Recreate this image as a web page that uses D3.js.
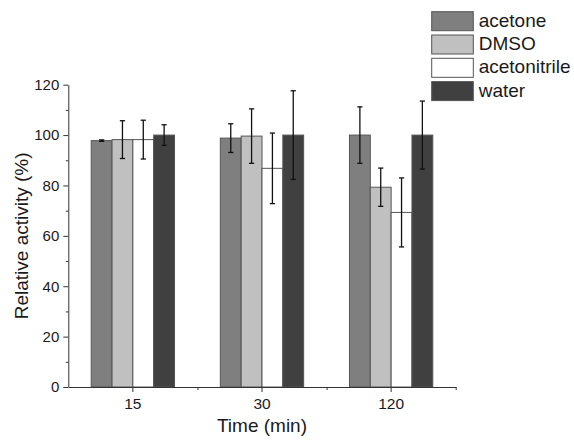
<!DOCTYPE html>
<html>
<head>
<meta charset="utf-8">
<script src="https://cdn.jsdelivr.net/npm/d3@7"></script>
<style>
	body { margin: 0; background: #fff; }
	svg { display: block; font-family: "Liberation Sans", Arial, sans-serif; }
</style>
</head>
<body>
<svg id="chart" width="574" height="442"></svg>
<script>
// data
var categories = ['15', '30', '120'];
var solvents = ['acetone', 'DMSO', 'acetonitrile', 'water'];
var colors = ['#7f7f7f', '#c0c0c0', '#ffffff', '#404040'];

var acetone = [97.8, 98.8, 100];
var acetoneErr = [0.3, 5.7, 11.2];
var dmso = [98.2, 99.6, 79.3];
var dmsoErr = [7.5, 10.8, 7.6];
var acetonitrile = [98.2, 86.8, 69.3];
var acetonitrileErr = [7.7, 14.0, 13.7];
var water = [100, 100, 100];
var waterErr = [4.1, 17.6, 13.5];

var yTicks = [0, 20, 40, 60, 80, 100, 120];
var yMinorTicks = [10, 30, 50, 70, 90, 110];

var values = [acetone, dmso, acetonitrile, water];
var errors = [acetoneErr, dmsoErr, acetonitrileErr, waterErr];

// plot box
var plot = { left: 68.3, right: 455.7, top: 84.7, bottom: 387 };
var textColor = '#1a1a1a';

var svg = d3.select('#chart');

var x0 = d3.scaleBand().domain(categories).range([plot.left, plot.right]).padding(0);
var x1 = d3.scaleBand().domain(solvents).range([0, x0.bandwidth()]).paddingInner(0).paddingOuter(1.1);
var xEdge = d3.scaleLinear().domain([0, categories.length]).range([plot.left, plot.right]);
var y = d3.scaleLinear().domain([0, 120]).range([plot.bottom, plot.top]);

// flatten to one record per bar
var bars = [];
categories.forEach(function(c, i) {
	solvents.forEach(function(s, j) {
		bars.push({ cat: c, solvent: s, idx: j, value: values[j][i], err: errors[j][i] });
	});
});

// bars
svg.append('g').selectAll('rect')
	.data(bars)
	.enter()
	.append('rect')
	.attr('x', function(d) { return x0(d.cat) + x1(d.solvent); })
	.attr('y', function(d) { return y(d.value); })
	.attr('width', x1.bandwidth())
	.attr('height', function(d) { return y(0) - y(d.value); })
	.attr('fill', function(d) { return colors[d.idx]; })
	.attr('stroke', '#555')
	.attr('stroke-width', 1);

// error bars
var eb = svg.append('g').attr('stroke', '#111').attr('stroke-width', 1.3);
bars.forEach(function(d) {
	var cx = x0(d.cat) + x1(d.solvent) + x1.bandwidth() / 2;
	var hi = y(d.value + d.err), lo = y(d.value - d.err);
	eb.append('line').attr('x1', cx).attr('x2', cx).attr('y1', hi).attr('y2', lo);
	eb.append('line').attr('x1', cx - 2.6).attr('x2', cx + 2.6).attr('y1', hi).attr('y2', hi);
	eb.append('line').attr('x1', cx - 2.6).attr('x2', cx + 2.6).attr('y1', lo).attr('y2', lo);
});

// y axis
var yAxis = svg.append('g')
	.attr('transform', 'translate(' + plot.left + ',0)')
	.call(d3.axisLeft(y).tickValues(yTicks).tickSize(5).tickSizeOuter(0));
yAxis.selectAll('text').attr('x', -9).style('font-size', '15px').attr('fill', textColor);
svg.append('g')
	.attr('transform', 'translate(' + plot.left + ',0)')
	.call(d3.axisLeft(y).tickValues(yMinorTicks).tickSize(2.5).tickFormat(''))
	.select('.domain').remove();

// x axis
var xAxis = svg.append('g')
	.attr('transform', 'translate(0,' + plot.bottom + ')')
	.call(d3.axisBottom(x0).tickSize(5).tickSizeOuter(0));
xAxis.selectAll('text').attr('y', 22).attr('dy', 0).style('font-size', '15.5px').attr('fill', textColor);
svg.append('g')
	.attr('transform', 'translate(0,' + plot.bottom + ')')
	.call(d3.axisBottom(xEdge).tickValues([1, 2, 3]).tickSize(3).tickFormat(''))
	.select('.domain').remove();

svg.selectAll('.domain, .tick line').attr('stroke', '#333');
svg.selectAll('.tick text').attr('font-family', null);

// axis titles
svg.append('text')
	.attr('x', (plot.left + plot.right) / 2)
	.attr('y', 432)
	.attr('text-anchor', 'middle')
	.attr('font-size', 19)
	.attr('fill', textColor)
	.text('Time (min)');

svg.append('text')
	.attr('transform', 'translate(28,' + (plot.top + plot.bottom) / 2 + ') rotate(-90)')
	.attr('text-anchor', 'middle')
	.attr('font-size', 19)
	.attr('fill', textColor)
	.text('Relative activity (%)');

// legend
var legend = svg.append('g').selectAll('g')
	.data(solvents)
	.enter()
	.append('g')
	.attr('transform', function(d, i) { return 'translate(431.7,' + (11.7 + i * 23.3) + ')'; });
legend.append('rect')
	.attr('width', 41.6)
	.attr('height', 19)
	.attr('fill', function(d, i) { return colors[i]; })
	.attr('stroke', '#555');
legend.append('text')
	.attr('x', 47)
	.attr('y', 15)
	.attr('font-size', 19)
	.attr('fill', textColor)
	.text(function(d) { return d; });
</script>
</body>
</html>
